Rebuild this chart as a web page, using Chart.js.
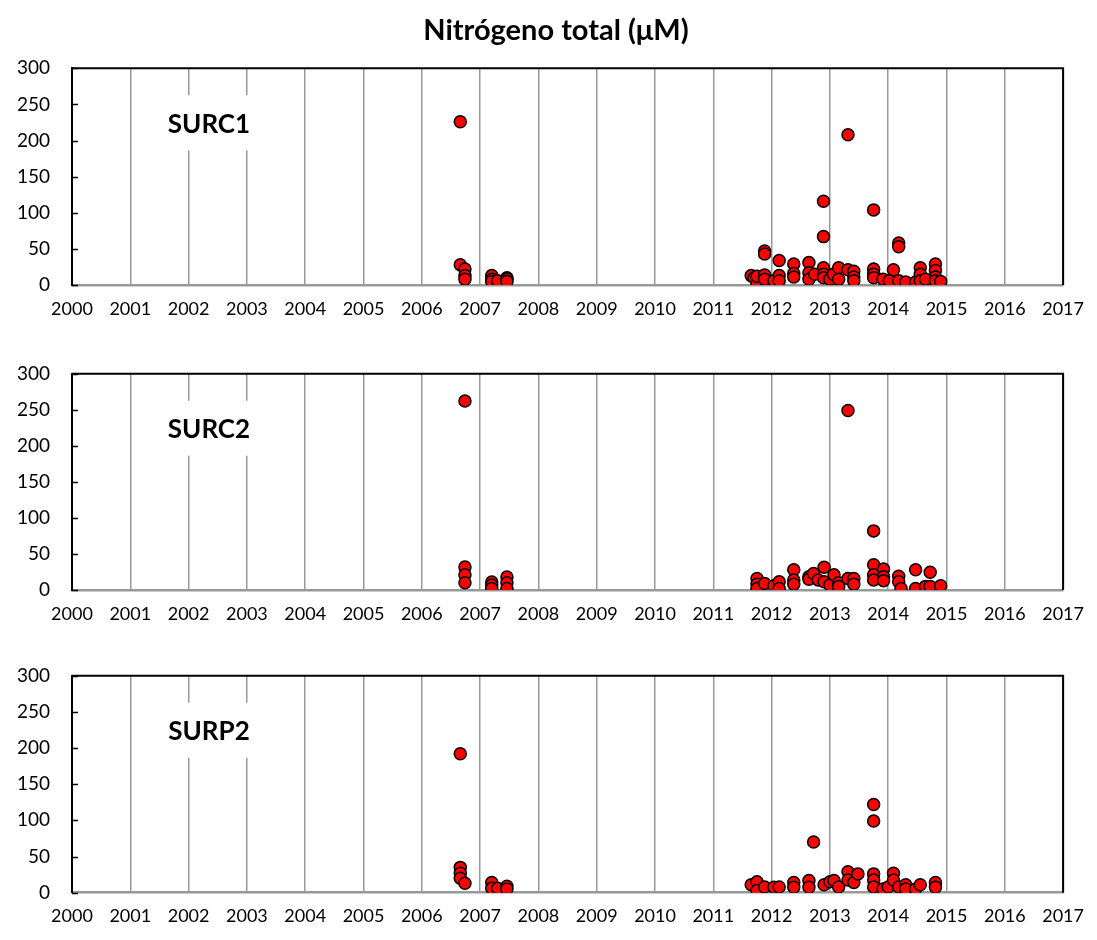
<!DOCTYPE html>
<html>
<head>
<meta charset="utf-8">
<script src="https://cdn.jsdelivr.net/npm/chart.js@4.4.1/dist/chart.umd.min.js"></script>
<style>
  html, body { margin: 0; padding: 0; background: #fff; }
  #wrap { position: relative; width: 1097px; height: 940px; }
  #wrap canvas { position: absolute; left: 0; }
</style>
</head>
<body>
<div id="wrap">
  <canvas id="c1" width="1097" height="323" style="top:0px"></canvas>
  <canvas id="c2" width="1097" height="305" style="top:323px"></canvas>
  <canvas id="c3" width="1097" height="312" style="top:628px"></canvas>
</div>
<script>
// ======================
//  Nitrógeno total (µM) - SURC1, SURC2, SURP2
// ======================

// --- EJES ---
const anios = [2000, 2001, 2002, 2003, 2004, 2005, 2006, 2007, 2008, 2009, 2010, 2011, 2012, 2013, 2014, 2015, 2016, 2017];
const yTicks = [0, 50, 100, 150, 200, 250, 300];

// --- SURC1 (fecha decimal / valor) ---
const surc1Fechas = [2006.66, 2006.66, 2006.74, 2006.74, 2006.74, 2007.20, 2007.20, 2007.20, 2007.30, 2007.46, 2007.46, 2007.46,
  2011.65, 2011.70, 2011.75, 2011.75, 2011.88, 2011.88, 2011.88, 2011.88, 2012.04, 2012.13, 2012.13, 2012.13,
  2012.38, 2012.38, 2012.38, 2012.64, 2012.64, 2012.64, 2012.74, 2012.89, 2012.89, 2012.89, 2012.89, 2012.89,
  2013.00, 2013.06, 2013.15, 2013.15, 2013.31, 2013.31, 2013.41, 2013.41, 2013.41, 2013.75, 2013.75, 2013.75, 2013.75,
  2013.91, 2014.02, 2014.09, 2014.18, 2014.18, 2014.18, 2014.30, 2014.47, 2014.55, 2014.55, 2014.55, 2014.64,
  2014.81, 2014.81, 2014.81, 2014.81, 2014.90];
const surc1Valores = [226, 28, 22, 13, 8, 13, 8, 5, 6, 10, 8, 5,
  13, 10, 2, 12, 47, 43, 14, 8, 6, 34, 13, 6,
  29, 16, 11, 31, 17, 8, 15, 116, 67, 24, 15, 10,
  8, 15, 24, 8, 208, 21, 19, 11, 6, 104, 22, 15, 10,
  8, 6, 21, 58, 53, 6, 4, 4, 24, 15, 6, 8,
  29, 20, 11, 6, 5];

// --- SURC2 ---
const surc2Fechas = [2006.74, 2006.74, 2006.74, 2006.74, 2007.20, 2007.20, 2007.20, 2007.46, 2007.46, 2007.46,
  2011.75, 2011.75, 2011.75, 2011.88, 2012.04, 2012.13, 2012.13, 2012.38, 2012.38, 2012.38,
  2012.64, 2012.64, 2012.72, 2012.80, 2012.90, 2012.90, 2013.00, 2013.07, 2013.15, 2013.15,
  2013.31, 2013.31, 2013.41, 2013.41, 2013.75, 2013.75, 2013.75, 2013.75, 2013.92, 2013.92, 2013.92,
  2014.18, 2014.18, 2014.22, 2014.47, 2014.47, 2014.64, 2014.72, 2014.72, 2014.90];
const surc2Valores = [262, 32, 21, 10, 11, 7, 2, 18, 10, 2,
  16, 8, 2, 9, 6, 11.5, 2, 28, 14, 8,
  18.5, 15, 23, 14, 31.5, 11.5, 7, 21, 10, 5,
  249, 16, 16, 8, 82, 35, 21, 14, 29, 18.5, 13,
  19, 11.5, 2, 28, 2, 5, 24.5, 5, 6];

// --- SURP2 ---
const surp2Fechas = [2006.66, 2006.66, 2006.66, 2006.66, 2006.74, 2007.20, 2007.20, 2007.30, 2007.46, 2007.46,
  2011.65, 2011.75, 2011.75, 2011.88, 2012.04, 2012.13, 2012.38, 2012.38, 2012.64, 2012.64, 2012.72,
  2012.90, 2013.00, 2013.07, 2013.15, 2013.31, 2013.31, 2013.41, 2013.48,
  2013.75, 2013.75, 2013.75, 2013.75, 2013.75, 2013.91, 2014.00, 2014.09, 2014.09, 2014.18,
  2014.30, 2014.30, 2014.47, 2014.55, 2014.81, 2014.81];
const surp2Valores = [192, 35, 27, 20, 13, 14, 6, 6, 9, 5,
  11, 15, 3, 8, 7.5, 8, 14, 7.5, 17, 7.5, 70,
  11, 15, 17, 8, 29, 17.6, 14, 26,
  122, 99, 26, 17.6, 8, 5, 8, 27, 17.6, 8,
  11, 5, 5, 11, 14, 7.5];

const fuente = "Lato, 'Open Sans', sans-serif";

// marco negro (arriba, derecha), marcas internas del eje Y, etiqueta del panel y título
const marcoPanel = {
  id: "marcoPanel",
  afterDraw(chart, args, opts) {
    const { ctx, chartArea: a, scales } = chart;
    ctx.save();
    ctx.strokeStyle = "#000";
    ctx.lineWidth = 2;
    ctx.beginPath();
    ctx.moveTo(a.left, a.top);
    ctx.lineTo(a.right, a.top);
    ctx.lineTo(a.right, a.bottom);
    ctx.stroke();

    // marcas cortas hacia dentro
    ctx.lineWidth = 1.5;
    yTicks.forEach(v => {
      const y = Math.round(scales.y.getPixelForValue(v)) + 0.5;
      ctx.beginPath();
      ctx.moveTo(a.left, y);
      ctx.lineTo(a.left + 6, y);
      ctx.stroke();
    });

    // caja blanca + nombre de estación
    ctx.fillStyle = "#fff";
    ctx.fillRect(a.left + 80, a.top + 27, 116, 55);
    ctx.fillStyle = "#000";
    ctx.font = "bold 26px " + fuente;
    ctx.textAlign = "center";
    ctx.textBaseline = "middle";
    ctx.fillText(opts.texto, a.left + 137, a.top + 56);

    // título general (solo primer panel)
    if (opts.titulo) {
      ctx.font = "bold 29px " + fuente;
      ctx.fillText(opts.titulo, 556, 31);
    }
    ctx.restore();
  },
};

function crearPanel(id, estacion, fechas, valores, padTop, padBottom, titulo) {
  const ctx = document.getElementById(id).getContext("2d");
  const puntos = fechas.map((f, i) => ({ x: f, y: valores[i] }));

  return new Chart(ctx, {
    type: "scatter",
    data: {
      datasets: [
        {
          label: estacion,
          data: puntos,
          backgroundColor: "#ff0000",
          borderColor: "#000",
          borderWidth: 1.5,
          pointRadius: 6,
          pointHoverRadius: 6,
        },
      ],
    },
    options: {
      responsive: false,
      animation: false,
      layout: { padding: { top: padTop, bottom: padBottom, left: 0, right: 25 } },
      plugins: {
        legend: { display: false },
        tooltip: { enabled: false },
        title: { display: false },
        marcoPanel: { texto: estacion, titulo: titulo },
      },
      scales: {
        x: {
          type: "linear",
          min: anios[0],
          max: anios[anios.length - 1],
          afterBuildTicks: s => { s.ticks = anios.map(v => ({ value: v })); },
          afterFit: s => { s.height = 38; },
          ticks: {
            color: "#000",
            font: { family: fuente, size: 18 },
            padding: 13,
            maxRotation: 0,
            autoSkip: false,
            callback: v => String(v),
          },
          grid: { color: "#999", lineWidth: 1.5, drawTicks: false },
          border: { color: "#999", width: 2.5 },
        },
        y: {
          min: 0,
          max: 300,
          afterBuildTicks: s => { s.ticks = yTicks.map(v => ({ value: v })); },
          afterFit: s => { s.width = 72; },
          ticks: {
            color: "#000",
            font: { family: fuente, size: 19 },
            padding: 22,
          },
          grid: { drawOnChartArea: false, drawTicks: false },
          border: { color: "#000", width: 2 },
        },
      },
    },
    plugins: [marcoPanel],
  });
}

crearPanel("c1", "SURC1", surc1Fechas, surc1Valores, 68.3, 0, "Nitrógeno total (μM)");
crearPanel("c2", "SURC2", surc2Fechas, surc2Valores, 50.7, 0, null);
crearPanel("c3", "SURP2", surp2Fechas, surp2Valores, 47.7, 9.3, null);
</script>
</body>
</html>
